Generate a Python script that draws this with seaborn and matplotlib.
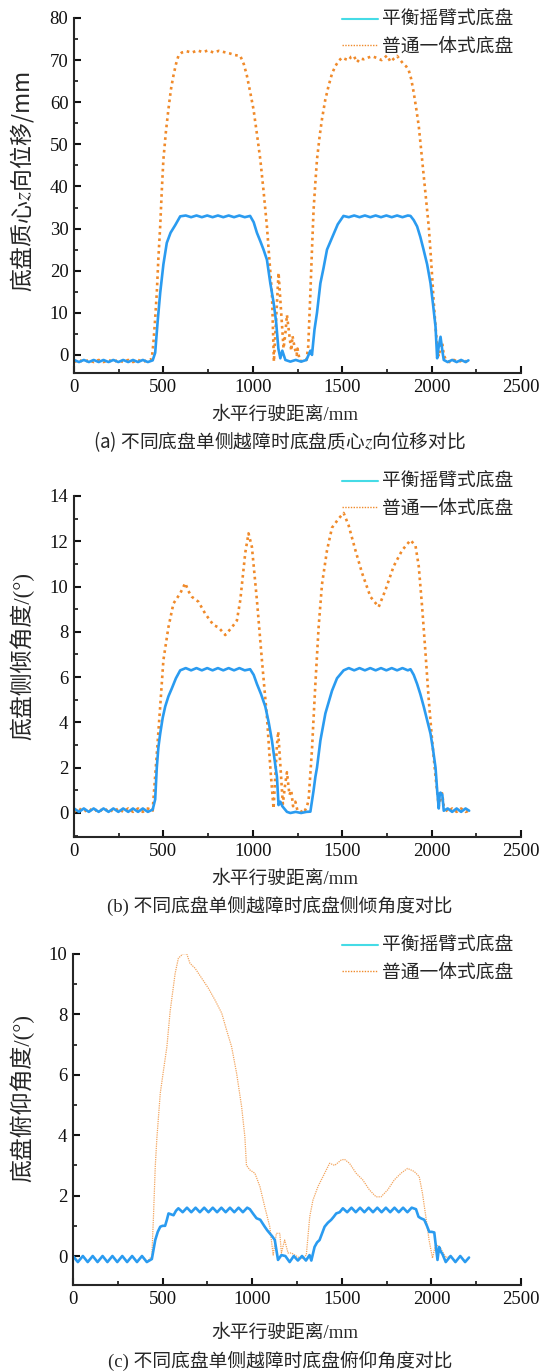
import matplotlib
matplotlib.use("Agg")
import matplotlib.pyplot as plt
from matplotlib.lines import Line2D
from matplotlib.ticker import MultipleLocator
import seaborn as sns

# ---------------- data ----------------
# (a) z displacement of chassis centre of mass, mm
a_blue_x = [0, 28, 55, 83, 110, 138, 165, 193, 220, 248, 275, 303, 330, 358, 385, 413, 440,
            454, 468, 482, 500, 519, 540, 566, 594,
            625, 655, 685, 715, 745, 775, 805, 835, 865, 895, 925, 955, 985,
            1005, 1023, 1042, 1060, 1079, 1098, 1116, 1130, 1143,
            1154, 1165, 1182, 1210, 1240, 1270, 1300, 1322, 1331,
            1345, 1359, 1378, 1395, 1415, 1450, 1475, 1507,
            1537, 1567, 1597, 1627, 1657, 1687, 1717, 1747, 1777, 1807, 1837, 1867, 1882,
            1900, 1919, 1937, 1955, 1975, 1994, 2008, 2022, 2031,
            2040, 2050, 2060, 2068, 2090, 2115, 2140, 2165, 2190, 2206]
a_blue_y = [-1.2, -1.7, -1.2, -1.7, -1.2, -1.7, -1.2, -1.7, -1.2, -1.7, -1.2, -1.7, -1.2, -1.7, -1.2, -1.7, -1.3,
            0.5, 8.0, 14.7, 21.5, 26.6, 29.0, 30.8, 32.9,
            33.1, 32.7, 33.1, 32.7, 33.1, 32.7, 33.1, 32.7, 33.1, 32.7, 33.1, 32.7, 33.0,
            31.5, 29.0, 27.0, 25.0, 22.6, 17.0, 12.5, 8.0, 1.5,
            -0.8, 1.0, -1.2, -1.6, -1.2, -1.6, -1.2, 1.0, 0.0,
            6.0, 10.0, 17.0, 20.5, 25.0, 28.5, 31.0, 33.0,
            32.7, 33.1, 32.7, 33.1, 32.7, 33.1, 32.7, 33.1, 32.7, 33.1, 32.7, 33.1, 33.0,
            32.0, 30.5, 28.0, 25.0, 21.5, 17.0, 12.0, 6.7, -0.8,
            2.0, 4.3, 1.0, -1.2, -1.7, -1.2, -1.7, -1.2, -1.7, -1.3]

a_orange_x = [0, 28, 55, 83, 110, 138, 165, 193, 220, 248, 275, 303, 330, 358, 385, 413, 435,
              444, 453, 463, 472, 482, 491, 500, 514, 528, 542, 556, 570, 584, 603,
              630, 660, 690, 720, 750, 780, 810, 840, 870, 900, 930,
              950, 967, 985, 1004, 1023, 1042, 1060, 1079, 1093, 1107, 1118,
              1144, 1158, 1172, 1182, 1191, 1205, 1215, 1222, 1235, 1245, 1250, 1262, 1280, 1300,
              1310, 1322, 1331, 1340, 1350, 1359, 1374, 1387, 1405, 1424, 1443, 1462, 1480, 1499,
              1520, 1537, 1550, 1565, 1583, 1600, 1620, 1645, 1667, 1695, 1720, 1751, 1770, 1790,
              1807, 1825, 1844, 1858, 1872,
              1886, 1900, 1914, 1928, 1942, 1956, 1970, 1984, 1994, 2003, 2012, 2022, 2031, 2040,
              2050, 2059, 2068, 2080, 2100, 2125, 2150, 2175, 2200, 2206]
a_orange_y = [-1.7, -1.2, -1.7, -1.2, -1.7, -1.2, -1.7, -1.2, -1.7, -1.2, -1.7, -1.2, -1.7, -1.2, -1.7, -1.2, -1.0,
              2.8, 8.0, 14.7, 23.0, 30.5, 39.0, 46.4, 53.0, 58.3, 63.0, 66.3, 69.0, 71.0, 71.8,
              72.1, 71.8, 72.3, 71.9, 72.3, 71.8, 72.2, 71.9, 71.6, 71.2, 71.0,
              69.0, 66.3, 62.5, 58.3, 52.5, 46.4, 39.0, 30.5, 22.5, 14.7, -1.6,
              19.5, 10.5, 1.5, 5.0, 9.5, 4.5, 1.0, 4.5, 1.5, 0.0, 1.5, -1.3, -1.6, -1.2,
              2.0, 14.7, 25.0, 34.5, 41.0, 46.4, 52.0, 56.0, 60.5, 63.9, 66.8, 68.6, 69.8, 70.6,
              70.2, 70.0, 70.8, 71.0, 69.5, 70.4, 70.2, 70.6, 70.9, 70.5, 70.0, 71.1, 69.6, 70.4,
              71.0, 70.0, 69.0, 68.5, 67.6,
              65.5, 62.3, 58.5, 54.4, 48.5, 42.5, 36.5, 30.5, 24.5, 18.6, 12.5, 6.7, 2.0, -0.4,
              2.0, 3.0, 0.0, -1.2, -1.7, -1.2, -1.7, -1.2, -1.7, -1.4]

# (b) roll angle, degrees
b_blue_x = [0, 28, 55, 83, 110, 138, 165, 193, 220, 248, 275, 303, 330, 358, 385, 413, 440,
            454, 463, 472, 482, 496, 510, 528, 547, 570, 594,
            625, 655, 685, 715, 745, 775, 805, 835, 865, 895, 925, 955, 985,
            1005, 1023, 1046, 1070, 1089, 1107, 1121, 1135, 1144,
            1154, 1165, 1191, 1210, 1240, 1270, 1300, 1322,
            1340, 1350, 1359, 1378, 1406, 1443, 1471, 1508,
            1537, 1567, 1597, 1627, 1657, 1687, 1717, 1747, 1777, 1807, 1837, 1867, 1882,
            1900, 1919, 1937, 1956, 1975, 1994, 2008, 2022, 2031, 2040,
            2046, 2050, 2060, 2068, 2090, 2115, 2140, 2165, 2190, 2210]
b_blue_y = [0.2, 0.05, 0.2, 0.05, 0.2, 0.05, 0.2, 0.05, 0.2, 0.05, 0.2, 0.05, 0.2, 0.05, 0.2, 0.05, 0.15,
            0.6, 2.0, 2.9, 3.5, 4.2, 4.7, 5.15, 5.5, 5.95, 6.3,
            6.4, 6.3, 6.4, 6.3, 6.4, 6.3, 6.4, 6.3, 6.4, 6.3, 6.4, 6.3, 6.35,
            6.1, 5.7, 5.25, 4.7, 4.0, 3.2, 2.4, 1.6, 0.35,
            0.5, 0.3, 0.05, 0.0, 0.05, 0.0, 0.05, 0.06,
            1.0, 1.6, 2.0, 3.2, 4.4, 5.4, 5.95, 6.3,
            6.4, 6.3, 6.4, 6.3, 6.4, 6.3, 6.4, 6.3, 6.4, 6.3, 6.4, 6.3, 6.35,
            6.1, 5.7, 5.25, 4.7, 4.1, 3.5, 2.8, 2.0, 1.0, 0.2,
            0.87, 0.9, 0.8, 0.1, 0.2, 0.05, 0.2, 0.05, 0.2, 0.1]

b_orange_x = [0, 28, 55, 83, 110, 138, 165, 193, 220, 248, 275, 303, 330, 358, 385, 413, 440,
              444, 463, 482, 500, 528, 556, 594, 622, 640, 659, 696, 734, 780, 808, 846, 883, 911,
              930, 958, 976, 995, 1023, 1051, 1079, 1098, 1116,
              1125, 1135, 1142, 1155, 1168, 1180, 1191, 1205, 1215, 1225, 1238, 1250, 1265, 1285, 1303,
              1312, 1322, 1331, 1340, 1350, 1368, 1387, 1415, 1443, 1480, 1508, 1536, 1574, 1611,
              1658, 1704, 1742, 1788, 1835, 1882, 1910, 1928, 1947, 1966, 1984, 2003, 2022, 2040,
              2050, 2059, 2068, 2090, 2115, 2140, 2165, 2190, 2210]
b_orange_y = [0.05, 0.2, 0.05, 0.2, 0.05, 0.2, 0.05, 0.2, 0.05, 0.2, 0.05, 0.2, 0.05, 0.2, 0.05, 0.2, 0.1,
              0.57, 2.6, 4.7, 6.75, 8.2, 9.25, 9.7, 10.15, 9.8, 9.55, 9.33, 8.8, 8.3, 8.2, 7.86, 8.2, 8.5,
              9.4, 11.5, 12.35, 11.75, 9.4, 6.75, 4.25, 2.0, 0.2,
              1.5, 3.0, 3.6, 2.0, 0.4, 1.2, 1.8, 0.8, 1.0, 0.3, 0.5, 0.1, 0.1, 0.0, 0.3,
              0.57, 1.75, 2.8, 4.2, 5.7, 8.2, 10.1, 11.6, 12.6, 13.0, 13.25, 12.7, 11.6, 10.6,
              9.55, 9.1, 9.85, 10.9, 11.6, 12.05, 11.8, 10.9, 9.1, 7.05, 5.0, 3.2, 1.6, 0.3,
              0.6, 0.87, 0.3, 0.05, 0.2, 0.05, 0.2, 0.05, 0.1]

# (c) pitch angle, degrees
c_blue_x = [0, 27, 55, 82, 110, 137, 165, 192, 220, 247, 275, 302, 330, 357, 385, 412, 440,
            459, 473, 487, 500, 514, 524, 533, 547, 561, 575, 588,
            612, 636, 660, 684, 708, 732, 756, 780, 804, 828, 852, 876, 900, 924, 948, 972, 987,
            1005, 1024, 1045, 1070, 1084, 1098, 1112, 1126, 1144,
            1163, 1185, 1209, 1232, 1255, 1278, 1300, 1320, 1330,
            1348, 1362, 1376, 1390, 1404, 1422, 1441, 1455, 1469, 1488, 1506,
            1530, 1554, 1578, 1602, 1626, 1650, 1674, 1698, 1722, 1746, 1770, 1794, 1818, 1842, 1866, 1890, 1914,
            1928, 1941, 1960, 1975, 1988, 2002, 2016, 2034,
            2043, 2052, 2062, 2080, 2107, 2134, 2161, 2188, 2210]
c_blue_y = [0.0, -0.2, 0.0, -0.2, 0.0, -0.2, 0.0, -0.2, 0.0, -0.2, 0.0, -0.2, 0.0, -0.2, 0.0, -0.2, -0.1,
            0.53, 0.8, 0.97, 1.0, 1.0, 1.2, 1.41, 1.38, 1.35, 1.5, 1.58,
            1.45, 1.6, 1.45, 1.6, 1.45, 1.6, 1.45, 1.6, 1.45, 1.6, 1.45, 1.6, 1.45, 1.6, 1.45, 1.6, 1.55,
            1.4, 1.25, 1.2, 0.97, 0.85, 0.75, 0.65, 0.53, -0.13,
            0.03, 0.0, -0.2, 0.0, -0.15, 0.0, -0.15, 0.03, -0.15,
            0.3, 0.45, 0.53, 0.75, 0.97, 1.1, 1.2, 1.3, 1.41, 1.45, 1.58,
            1.45, 1.6, 1.45, 1.6, 1.45, 1.6, 1.45, 1.6, 1.45, 1.6, 1.45, 1.6, 1.45, 1.6, 1.45, 1.6, 1.55,
            1.3, 1.25, 1.2, 1.0, 0.8, 0.8, 0.78, -0.13,
            0.3, 0.15, 0.06, -0.2, 0.0, -0.2, 0.0, -0.2, -0.05]

c_orange_x = [0, 27, 55, 82, 110, 137, 165, 192, 220, 247, 275, 302, 330, 357, 385, 412,
              440, 449, 459, 468, 487, 505, 524, 542, 570, 588, 616, 635, 653, 681, 718, 755, 792,
              830, 857, 885, 913, 941, 959, 968, 987, 1015, 1043, 1070, 1098, 1117,
              1135, 1154, 1163, 1181, 1200, 1219, 1246, 1274, 1302,
              1321, 1339, 1367, 1395, 1432, 1460, 1497, 1515, 1543, 1580, 1617, 1654, 1691, 1719,
              1756, 1793, 1830, 1867, 1904, 1932, 1950, 1969, 1987, 2006, 2024, 2052, 2080,
              2107, 2134, 2161, 2188, 2210]
c_orange_y = [0.0, -0.2, 0.0, -0.2, 0.0, -0.2, 0.0, -0.2, 0.0, -0.2, 0.0, -0.2, 0.0, -0.2, 0.0, -0.2,
              0.0, 1.3, 2.96, 3.9, 5.39, 6.15, 6.93, 8.1, 9.36, 9.86, 10.02, 10.0, 9.69, 9.53, 9.2, 8.87, 8.48,
              8.04, 7.48, 6.93, 6.05, 4.94, 3.95, 3.0, 2.85, 2.74, 2.3, 1.63, 0.97, 0.03,
              0.75, 0.75, 0.1, 0.53, 0.1, 0.1, 0.0, -0.1, 0.03,
              1.3, 1.85, 2.3, 2.63, 3.07, 3.0, 3.18, 3.2, 3.07, 2.74, 2.52, 2.19, 1.96, 1.96,
              2.19, 2.52, 2.74, 2.9, 2.8, 2.63, 2.08, 1.3, 0.53, -0.07, 0.4, 0.25, -0.05,
              0.0, -0.2, 0.0, -0.2, -0.05]

series_names = ["平衡摇臂式底盘", "普通一体式底盘"]
x_label = "水平行驶距离/mm"
y_labels = ["底盘质心$z$向位移/mm", "底盘侧倾角度/(°)", "底盘俯仰角度/(°)"]
captions = ["(a) 不同底盘单侧越障时底盘质心$z$向位移对比",
            "(b) 不同底盘单侧越障时底盘侧倾角度对比",
            "(c) 不同底盘单侧越障时底盘俯仰角度对比"]

# ---------------- style ----------------
sns.set_style("ticks")
MIX = ["Liberation Serif", "Noto Sans CJK SC"]
plt.rcParams["font.family"] = MIX
plt.rcParams["mathtext.fontset"] = "stix"
plt.rcParams["axes.linewidth"] = 1.5
FS = 13.5
FS_Y = 16.5

BLUE = "#2a9bf0"
ORANGE = "#f08a2a"
ORANGE_C = "#f3a55e"
CYAN = "#45dbe6"

W, H = 545, 1371
fig = plt.figure(figsize=(W / 100, H / 100), dpi=100)


def px_axes(left, top, right, bottom):
    return fig.add_axes([left / W, 1 - bottom / H, (right - left) / W, (bottom - top) / H])


panels = [
    dict(box=(74, 18, 521, 373), ylim=(-4.3, 80), major=10, minor=5,
         blue=(a_blue_x, a_blue_y), orange=(a_orange_x, a_orange_y),
         leg_top=12, ylab=182, xlab=415, cap=442, olw=1.9, odash=(0, (1, 1.4)), ocol=ORANGE),
    dict(box=(74, 496, 521, 837), ylim=(-1.06, 14), major=2, minor=1,
         blue=(b_blue_x, b_blue_y), orange=(b_orange_x, b_orange_y),
         leg_top=474, ylab=656, xlab=879, cap=906, olw=1.9, odash=(0, (1, 1.4)), ocol=ORANGE),
    dict(box=(73, 954, 521, 1285), ylim=(-0.96, 10), major=2, minor=1,
         blue=(c_blue_x, c_blue_y), orange=(c_orange_x, c_orange_y),
         leg_top=938, ylab=1098, xlab=1333, cap=1361, olw=0.9, odash=(0, (1, 0.8)), ocol=ORANGE_C),
]

for i, p in enumerate(panels):
    l, t, r, b = p["box"]
    ax = px_axes(l, t, r, b)
    bx, by = p["blue"]
    ox, oy = p["orange"]
    sns.lineplot(x=ox, y=oy, ax=ax, color=p["ocol"], linewidth=p["olw"],
                 linestyle=p["odash"], estimator=None, sort=False)
    sns.lineplot(x=bx, y=by, ax=ax, color=BLUE, linewidth=1.9,
                 estimator=None, sort=False)
    sns.despine(ax=ax)
    ax.set_xlim(0, 2500)
    ax.set_ylim(*p["ylim"])
    ax.xaxis.set_major_locator(MultipleLocator(500))
    ax.xaxis.set_minor_locator(MultipleLocator(250))
    ax.yaxis.set_major_locator(MultipleLocator(p["major"]))
    ax.yaxis.set_minor_locator(MultipleLocator(p["minor"]))
    ax.tick_params(which="major", direction="in", length=5, width=1.5,
                   labelsize=FS, pad=4, colors="#111111")
    ax.tick_params(which="minor", direction="in", length=3, width=1.3)

    fam = ["Noto Sans CJK SC"] if "$" in y_labels[i] else MIX
    ax.set_ylabel(y_labels[i], fontsize=FS_Y, family=fam)
    ax.yaxis.label.set_va("center")
    ax.yaxis.set_label_coords((22 - l) / (r - l), (b - p["ylab"]) / (b - t))
    ax.set_xlabel(x_label, fontsize=FS)
    ax.xaxis.label.set_va("center")
    ax.xaxis.set_label_coords((285 - l) / (r - l), (b - p["xlab"]) / (b - t))

    fam = ["Noto Sans CJK SC"] if "$" in captions[i] else MIX
    fig.text(280 / W, 1 - p["cap"] / H, captions[i], ha="center", va="center",
             fontsize=FS, family=fam)

    handles = [Line2D([], [], color=CYAN, linewidth=1.5),
               Line2D([], [], color=ORANGE, linewidth=1.0, linestyle=(0, (1, 1)))]
    ax.legend(handles, series_names, loc="upper right", frameon=False,
              bbox_to_anchor=(513 / W, 1 - p["leg_top"] / H), bbox_transform=fig.transFigure,
              borderaxespad=0, borderpad=0, handlelength=1.9, handletextpad=0.2,
              labelspacing=0.5, prop={"family": MIX, "size": FS})

fig.savefig("out.png", dpi=100)
